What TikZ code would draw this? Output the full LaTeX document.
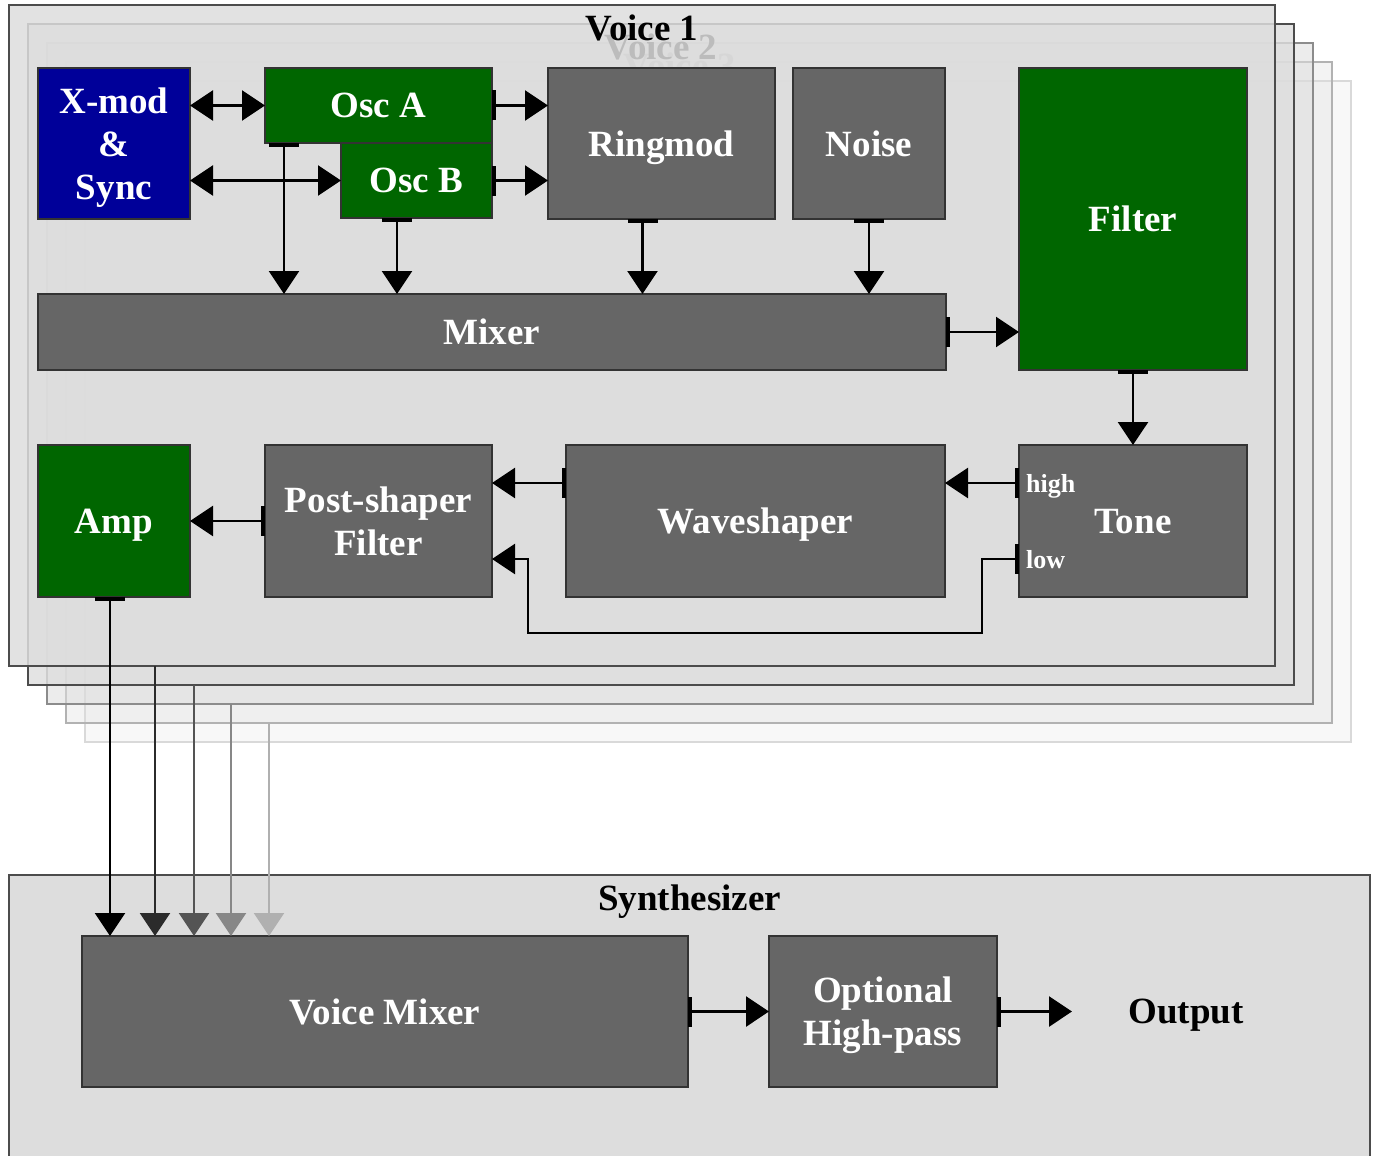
\documentclass[tikz,border=0pt]{standalone}
\usepackage{fontspec}
\setmainfont{Liberation Serif}
\usetikzlibrary{positioning,arrows.meta}
\definecolor{vgreen}{HTML}{006600}
\definecolor{vblue}{HTML}{000099}
\definecolor{vgray}{HTML}{666666}
\definecolor{panelgray}{HTML}{DDDDDD}

\begin{document}
\begin{tikzpicture}[
    x=0.5pt, y=-0.5pt,
    font=\bfseries\fontsize{18.5}{21.5}\selectfont,
    box/.style={rectangle, draw=black!80, line width=0.6pt, fill=vgray, text=white, align=center, inner sep=2pt, outer sep=0pt, text depth=0pt},
    panel/.style={rectangle, draw, line width=0.6pt, fill=panelgray},
    title/.style={text=black, inner sep=0pt, text depth=0pt},
    portlbl/.style={text=white, text depth=0pt, font=\bfseries\fontsize{13}{15}\selectfont},
    port/.style={line width=1.3pt, arrows={Bar[width=15pt,line width=2pt]-Triangle[length=11.5pt,width=15pt]}},
    link/.style={line width=1.3pt, arrows={Triangle[length=11.5pt,width=15pt]-Triangle[length=11.5pt,width=15pt]}},
    feed/.style={line width=1.3pt, arrows={-Triangle[length=11.5pt,width=15pt]}}
]
\useasboundingbox (0,0) rectangle (1376,1156);

% Voice panels, back to front
\foreach \i/\op/\bc in {5/0.2/black!15, 4/0.35/black!30, 3/0.55/black!45, 2/0.8/black!70, 1/0.85/black!70} {
  \node[panel, fill opacity=\op, draw=\bc, minimum width=633pt, minimum height=330.5pt] (voice\i) at ({642+19*(\i-1)},{335.5+19*(\i-1)}) {};
  \node[title] (vname\i) at ([yshift=-11.5pt]voice\i.north) {Voice \i};
}

% Voice 1: sources
\node[box, fill=vblue, minimum width=76pt, minimum height=75.5pt] (xmod) at (114,143.5) {X-mod\\\&\\Sync};
\node[box, fill=vgreen, minimum width=113.5pt, minimum height=37.5pt, right=37.5pt of xmod.north east, anchor=north west] (osca) {Osc A};
\node[box, fill=vgreen, minimum width=75.5pt, minimum height=37.5pt, anchor=north east] (oscb) at (osca.south east) {Osc B};
\node[box, minimum width=113.5pt, minimum height=75.5pt] (ringmod) at (661.5,143.5) {Ringmod};
\node[box, minimum width=76pt, minimum height=75.5pt, right=9pt of ringmod] (noise) {Noise};
\node[box, fill=vgreen, minimum width=114pt, minimum height=151pt] (filter) at (1133,219) {Filter};
\node[box, minimum width=454pt, minimum height=38pt, below=37.5pt of xmod.south west, anchor=north west] (mixer) {Mixer};

% Voice 1: output chain
\node[box, minimum width=114pt, minimum height=76pt, below=37.5pt of filter] (tone) {Tone};
\node[box, minimum width=189.5pt, minimum height=76pt, left=37pt of tone] (wshape) {Waveshaper};
\node[box, minimum width=113.5pt, minimum height=76pt, left=37pt of wshape] (pshape) {Post-shaper\\Filter};
\node[box, fill=vgreen, minimum width=76pt, minimum height=76pt, left=37.5pt of pshape] (amp) {Amp};
\node[portlbl, anchor=west] (thigh) at ([yshift=19pt]tone.west) {high};
\node[portlbl, anchor=west] (tlow) at ([yshift=-19pt]tone.west) {low};

% Synthesizer
\node[panel, draw=black!70, minimum width=680.5pt, minimum height=147.5pt] (synth) at (689.5,1022.5) {};
\node[title] (sname) at ([yshift=-11.5pt]synth.north) {Synthesizer};
\node[box, minimum width=303pt, minimum height=75.5pt] (vmix) at (385,1011.5) {Voice Mixer};
\node[box, minimum width=114pt, minimum height=75.5pt, right=40.5pt of vmix] (hpass) {Optional\\High-pass};
\node[title, minimum width=113.5pt, minimum height=75.5pt, right=37.5pt of hpass] (output) {Output};

% Edges
\coordinate (oadown) at ([xshift=9.5pt]osca.south west);
\coordinate (obdown) at ([xshift=28pt]oscb.south west);
\coordinate (rmdown) at ([xshift=-9.5pt]ringmod.south);
\coordinate (ampout) at ([xshift=-2pt]amp.south);

\draw[link] (xmod.east |- osca.west) -- (osca.west);
\draw[link] (xmod.east |- oscb.west) -- (oscb.west);
\draw[port] (osca.east) -- (ringmod.west |- osca.east);
\draw[port] (oscb.east) -- (ringmod.west |- oscb.east);
\draw[port] (oadown) -- (oadown |- mixer.north);
\draw[port] (obdown) -- (obdown |- mixer.north);
\draw[port] (rmdown) -- (rmdown |- mixer.north);
\draw[port] (noise.south) -- (noise.south |- mixer.north);
\draw[port] (mixer.east) -- (filter.west |- mixer.east);
\draw[port] (filter.south) -- (tone.north);
\draw[port] (thigh.west) -- (wshape.east |- thigh.west);
\draw[port] ([yshift=19pt]wshape.west) -- ([yshift=19pt]pshape.east);
\draw[port] (tlow.west) -- ++(-37,0) -- ++(0,74) -| ([xshift=18pt,yshift=-19pt]pshape.east) -- ([yshift=-19pt]pshape.east);
\draw[port] (pshape.west) -- (amp.east);

\draw[port] (ampout) -- (ampout |- vmix.north);
\foreach \i/\x/\c in {2/155/black!83, 3/194/black!67, 4/231/black!47, 5/269/black!31} {
  \coordinate (vout\i) at (\x,{666+19*(\i-2)});
  \draw[feed, \c] (vout\i) -- (vout\i |- vmix.north);
}

\draw[port] (vmix.east) -- (hpass.west);
\draw[port] (hpass.east) -- (output.west);

\end{tikzpicture}
\end{document}
